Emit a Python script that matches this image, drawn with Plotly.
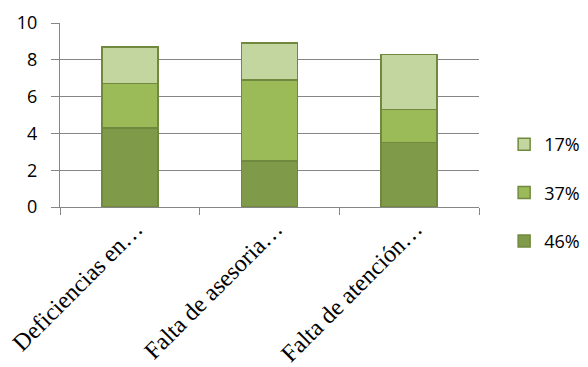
import plotly.graph_objects as go

categories = ["Deficiencias en…", "Falta de asesoria…", "Falta de atención…"]
series_names = ["46%", "37%", "17%"]
s46 = [4.3, 2.5, 3.5]
s37 = [2.4, 4.4, 1.8]
s17 = [2.0, 2.0, 3.0]
y_ticks = [0, 2, 4, 6, 8, 10]

fills = ["#7F9A48", "#9BBB59", "#C4D6A0"]
edge = "#71893F"
ranks = [3, 2, 1]

fig = go.Figure()
for name, vals, col, rk in zip(series_names, [s46, s37, s17], fills, ranks):
    fig.add_trace(go.Bar(
        x=categories, y=vals, name=name, legendgroup=name, legendrank=rk,
        marker=dict(color=col, line=dict(color=edge, width=1.5)),
    ))

fig.update_layout(
    barmode="stack", bargap=0.6,
    width=588, height=367,
    margin=dict(l=60, r=109, t=23, b=160, autoexpand=False),
    paper_bgcolor="white", plot_bgcolor="white",
    legend=dict(x=1.06, xanchor="left", y=0.076, yanchor="middle",
                tracegroupgap=22,
                font=dict(family="Open Sans, sans-serif", size=18, color="black"),
                itemwidth=30),
    showlegend=True,
)
fig.update_yaxes(
    range=[0, 10], tickvals=y_ticks, showgrid=True, gridcolor="#868686", gridwidth=1.3,
    showline=True, linecolor="#868686", linewidth=1.3, ticks="outside", ticklen=8,
    tickcolor="#868686", tickwidth=1.3, zeroline=False,
    tickfont=dict(family="Open Sans, sans-serif", size=18, color="black"),
    ticklabelstandoff=10,
)
fig.update_xaxes(
    showline=True, linecolor="#868686", linewidth=1.3, ticks="outside", ticklen=7,
    tickcolor="#868686", tickwidth=1.3, tickson="boundaries", tickangle=-45,
    tickfont=dict(family="Liberation Serif, Times New Roman, serif", size=24, color="black"),
    ticklabelshift=6, ticklabelstandoff=-3,
)
fig.write_html("out.html")
